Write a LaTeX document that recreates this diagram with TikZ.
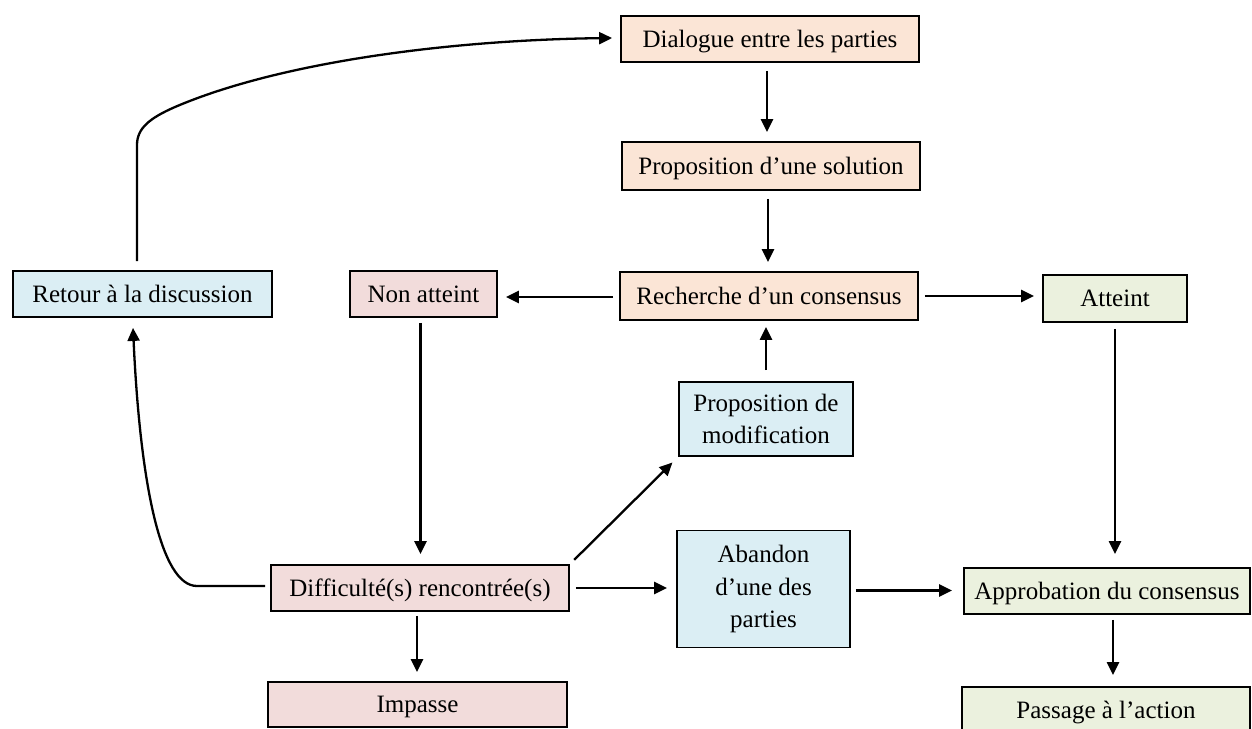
\documentclass[tikz,border=0pt]{standalone}
\usepackage{fontspec}
\setmainfont{Liberation Serif}
\usetikzlibrary{arrows.meta,calc}
\definecolor{cpeach}{RGB}{251,229,214}
\definecolor{cpink}{RGB}{242,220,219}
\definecolor{cblue}{RGB}{219,238,244}
\definecolor{cgreen}{RGB}{235,241,222}
\tikzset{
  box/.style={draw=black, line width=1.8pt, inner sep=0pt, align=center,
    font=\fontsize{25}{32.5}\selectfont},
  one/.style={box, text height=17pt, text depth=1pt},
  arr/.style={line width=2.3pt, -{Triangle[length=13pt,width=12pt]}},
}
\begin{document}
\begin{tikzpicture}[x=1pt,y=-1pt]
\useasboundingbox (0,0) rectangle (1252,728);
% nodes
\node[one, fill=cpeach, minimum width=298pt, minimum height=46pt] (dia) at (770,39) {Dialogue entre les parties};
\node[one, fill=cpeach, minimum width=298pt, minimum height=48pt] (sol) at (771,166) {Proposition d’une solution};
\node[one, fill=cpeach, minimum width=298pt, minimum height=48pt] (rech) at (769,296) {Recherche d’un consensus};
\node[one, fill=cblue, minimum width=259pt, minimum height=46pt] (ret) at (142.5,294) {Retour à la discussion};
\node[one, fill=cpink, minimum width=147pt, minimum height=46pt] (non) at (423.5,294) {Non atteint};
\node[one, fill=cgreen, minimum width=144pt, minimum height=47pt] (att) at (1115,298.5) {Atteint};
\node[box, fill=cblue, minimum width=174pt, minimum height=74pt] (mod) at (766,419) {Proposition de\\modification};
\node[one, fill=cpink, minimum width=298pt, minimum height=46pt] (dif) at (420,588) {Difficulté(s) rencontrée(s)};
\node[box, fill=cblue, minimum width=173pt, minimum height=117pt] (aba) at (763.5,589) {Abandon\\d’une des\\parties};
\node[one, fill=cgreen, minimum width=286pt, minimum height=46pt] (app) at (1107,591) {Approbation du consensus};
\node[one, fill=cpink, minimum width=299pt, minimum height=45pt] (imp) at (417.5,704.5) {Impasse};
\node[one, fill=cgreen, minimum width=288pt, minimum height=46pt] (pas) at (1106,710) {Passage à l’action};
% straight connectors
\draw[arr, shorten <=8pt, shorten >=9pt] ([xshift=-3pt]dia.south) -- ([xshift=-3pt]dia.south |- sol.north);
\draw[arr, shorten <=8pt, shorten >=9pt] ([xshift=-3pt]sol.south) -- ([xshift=-3pt]sol.south |- rech.north);
\draw[arr, shorten <=6pt, shorten >=8pt] ([yshift=-1pt]rech.west) -- ([yshift=-1pt]rech.west -| non.east);
\draw[arr, shorten <=6pt, shorten >=8pt] (rech.east) -- (rech.east -| att.west);
\draw[arr, shorten <=11pt, shorten >=6pt] (mod.north) -- (mod.north |- rech.south);
\draw[arr, shorten <=5pt, shorten >=10pt] ([xshift=-3pt]non.south) -- ([xshift=-3pt]non.south |- dif.north);
\draw[arr, shorten <=4pt, shorten >=9pt] ([xshift=-3pt]dif.south) -- ([xshift=-3pt]dif.south |- imp.north);
\draw[arr, shorten <=6pt, shorten >=9pt] (dif.east) -- (dif.east -| aba.west);
\draw[arr, shorten <=6pt, shorten >=8pt] (dif.north east) -- (mod.south west);
\draw[arr, shorten <=5pt, shorten >=11pt] ([yshift=-1.5pt]aba.east) -- ([yshift=-1.5pt]aba.east -| app.west);
\draw[arr, shorten <=6pt, shorten >=13pt] (att.south) -- (att.south |- app.north);
\draw[arr, shorten <=5pt, shorten >=11pt] ([xshift=6pt]app.south) -- ([xshift=6pt]app.south |- pas.north);
% curved connectors
\coordinate (c1) at (197,586);
\draw[arr] ([shift={(-5,-2)}]dif.west) -- (c1) .. controls (160,586) and (140,480) .. ([shift={(-9.5,10)}]ret.south);
\coordinate (r1) at (137,145);
\coordinate (r2) at (175,107);
\draw[arr] ([shift={(-5.5,-9)}]ret.north) -- (r1) .. controls (137,128) and (150,118) .. (r2) .. controls (280,62) and (450,40) .. ([shift={(-8,-1)}]dia.west);
\end{tikzpicture}
\end{document}
